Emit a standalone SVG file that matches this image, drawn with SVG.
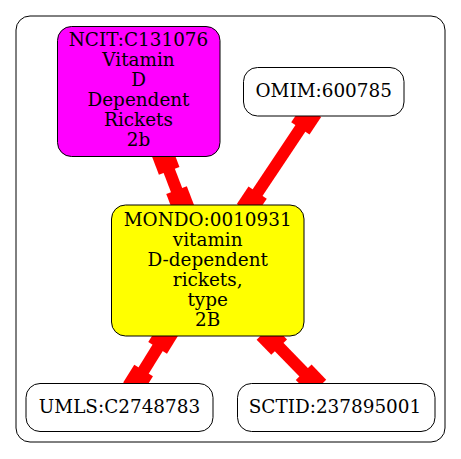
<svg xmlns="http://www.w3.org/2000/svg" width="461" height="459" viewBox="0 0 461 459">
<defs>
<style>
.node rect{stroke:#000;stroke-width:1}
text{font-family:"DejaVu Serif","Liberation Serif",serif;font-size:18.4px;text-anchor:middle;fill:#000}
.edge rect{fill:#ff0000}
</style>
</defs>
<rect width="461" height="459" fill="#fff"/>
<rect id="cluster" x="16" y="16" width="429" height="426" rx="14" ry="14" fill="#fff" stroke="#000" stroke-width="1"/>
<g id="edges" class="edge">
<g transform="translate(161.7,151.2) rotate(69.1)"><rect x="0" y="-6" width="62.6" height="12"/><rect x="0" y="-11" width="21" height="22"/><rect x="41.6" y="-11" width="21" height="22"/></g>
<g transform="translate(312,111) rotate(123.7)"><rect x="0" y="-6" width="119" height="12"/><rect x="0" y="-11" width="21" height="22"/><rect x="98" y="-11" width="21" height="22"/></g>
<g transform="translate(168.7,330) rotate(121.8)"><rect x="0" y="-6" width="68.6" height="12"/><rect x="0" y="-11" width="21" height="22"/><rect x="47.6" y="-11" width="21" height="22"/></g>
<g transform="translate(264.5,332) rotate(45.8)"><rect x="0" y="-6" width="77.2" height="12"/><rect x="0" y="-11" width="21" height="22"/><rect x="56.2" y="-11" width="21" height="22"/></g>
</g>
<g id="ncit" class="node">
<rect x="57.5" y="26.5" width="162.5" height="130" rx="14" ry="14" fill="#ff00ff"/>
<text x="138.5" y="46.3">NCIT:C131076</text>
<text x="138.5" y="66.3">Vitamin</text>
<text x="138.5" y="86.3">D</text>
<text x="138.5" y="106.3">Dependent</text>
<text x="138.5" y="126.3">Rickets</text>
<text x="138.5" y="146.3">2b</text>
</g>
<g id="omim" class="node">
<rect x="243.5" y="67.5" width="160.5" height="48.5" rx="14" ry="14" fill="#fff"/>
<text x="323.7" y="96.7">OMIM:600785</text>
</g>
<g id="mondo" class="node">
<rect x="111.5" y="205" width="192.5" height="131" rx="14" ry="14" fill="#ffff00"/>
<text x="207.7" y="226">MONDO:0010931</text>
<text x="207.7" y="246">vitamin</text>
<text x="207.7" y="266">D-dependent</text>
<text x="207.7" y="286">rickets,</text>
<text x="207.7" y="306">type</text>
<text x="207.7" y="326">2B</text>
</g>
<g id="umls" class="node">
<rect x="26" y="383.5" width="187" height="48" rx="14" ry="14" fill="#fff"/>
<text x="119.5" y="413.3">UMLS:C2748783</text>
</g>
<g id="sctid" class="node">
<rect x="237.5" y="383.5" width="197.5" height="48" rx="14" ry="14" fill="#fff"/>
<text x="335" y="413.3">SCTID:237895001</text>
</g>
</svg>
